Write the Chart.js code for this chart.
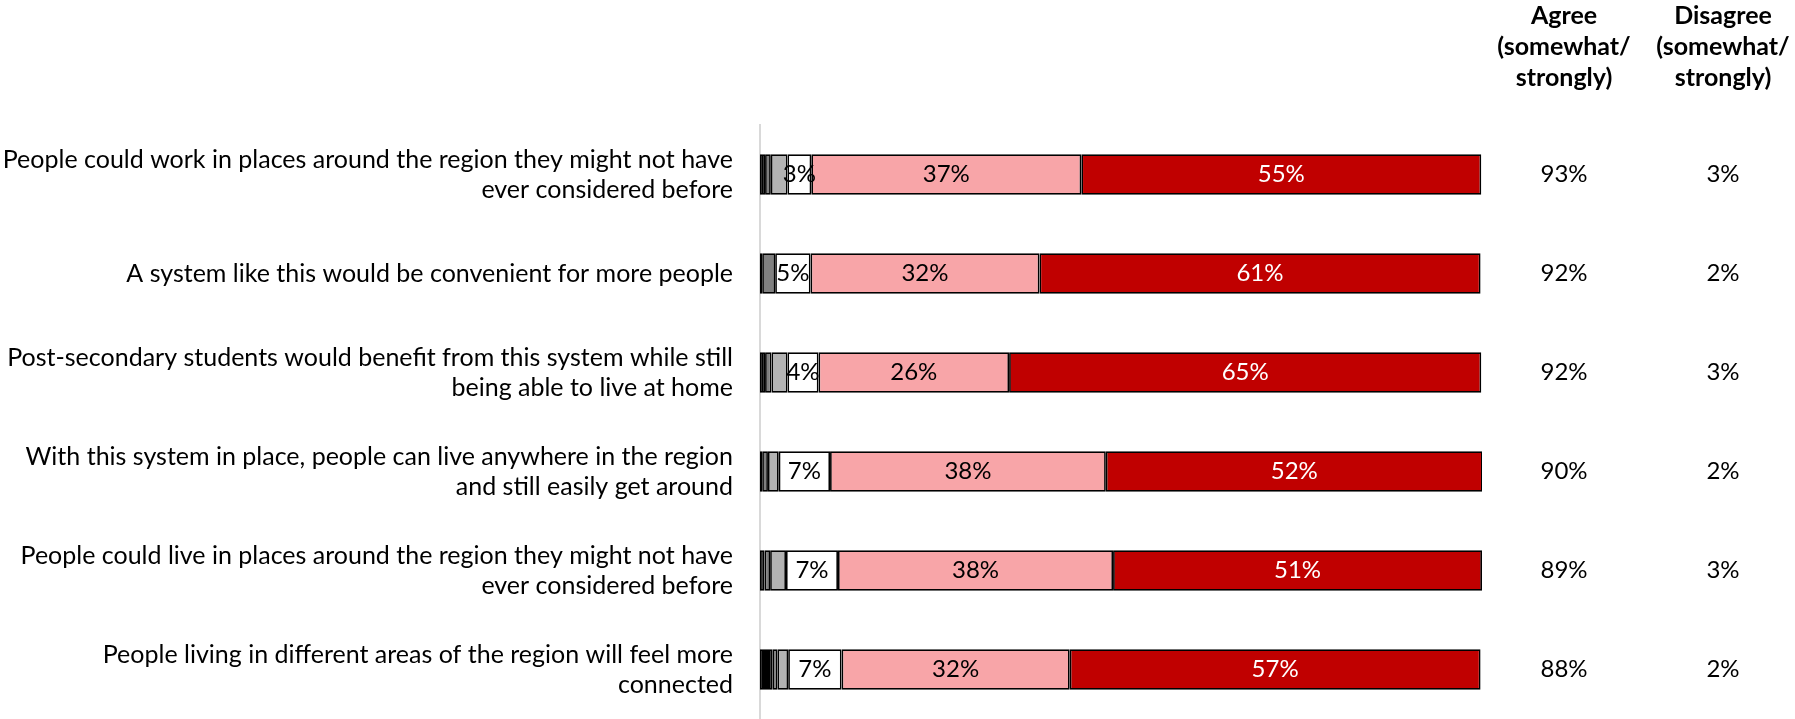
<!DOCTYPE html>
<html>
<head>
<meta charset="utf-8">
<script src="https://cdn.jsdelivr.net/npm/chart.js@4/dist/chart.umd.min.js"></script>
<style>
  body { margin: 0; background: #fff; }
  #wrap { width: 1795px; height: 719px; }
</style>
</head>
<body>
<div id="wrap"><canvas id="chart"></canvas></div>
<script>
const categories = [
  ["People could work in places around the region they might not have", "ever considered before"],
  ["A system like this would be convenient for more people"],
  ["Post-secondary students would benefit from this system while still", "being able to live at home"],
  ["With this system in place, people can live anywhere in the region", "and still easily get around"],
  ["People could live in places around the region they might not have", "ever considered before"],
  ["People living in different areas of the region will feel more", "connected"]
];

// segment shares, left to right
const stronglyDisagree = [0.7, 0.3, 0.7, 0.3, 0.6, 1.7];
const somewhatDisagree = [0.8, 1.8, 0.9, 0.8, 0.8, 0.7];
const dontKnow = [2.3, 0, 2.2, 1.5, 2.2, 1.5];
const neutral = [3.3, 4.9, 4.3, 7.1, 7.2, 7.4];
const somewhatAgree = [37.4, 31.7, 26.4, 38.2, 38.1, 31.6];
const stronglyAgree = [55.4, 61.1, 65.4, 52.2, 51.1, 56.9];

// summary columns on the right
const agreeTotal = ["93%", "92%", "92%", "90%", "89%", "88%"];
const disagreeTotal = ["3%", "2%", "3%", "2%", "3%", "2%"];
const agreeHeader = ["Agree", "(somewhat/", "strongly)"];
const disagreeHeader = ["Disagree", "(somewhat/", "strongly)"];

const FONT = "Lato, 'Liberation Sans', sans-serif";

const labelsPlugin = {
  id: "segmentLabels",
  afterDatasetsDraw(chart) {
    const ctx = chart.ctx;
    ctx.save();
    ctx.font = "24px " + FONT;
    ctx.textAlign = "center";
    ctx.textBaseline = "middle";
    [3, 4, 5].forEach(di => {
      const meta = chart.getDatasetMeta(di);
      meta.data.forEach((bar, i) => {
        const v = chart.data.datasets[di].data[i];
        ctx.fillStyle = di === 5 ? "#fff" : "#000";
        ctx.fillText(Math.round(v) + "%", (bar.x + bar.base) / 2, bar.y);
      });
    });

    const area = chart.chartArea;
    const xAgree = area.right + 82;
    const xDis = area.right + 241;
    ctx.fillStyle = "#000";
    ctx.font = "bold 25px " + FONT;
    agreeHeader.forEach((t, i) => ctx.fillText(t, xAgree, 16 + i * 31));
    disagreeHeader.forEach((t, i) => ctx.fillText(t, xDis, 16 + i * 31));

    ctx.font = "24px " + FONT;
    const meta = chart.getDatasetMeta(0);
    meta.data.forEach((bar, i) => {
      ctx.fillText(agreeTotal[i], xAgree, bar.y);
      ctx.fillText(disagreeTotal[i], xDis, bar.y);
    });
    ctx.restore();
  }
};

function series(data, color) {
  return {
    data: data,
    backgroundColor: color,
    borderColor: "#000",
    borderWidth: 1.75,
    borderSkipped: false,
    barPercentage: 0.41,
    categoryPercentage: 1
  };
}

new Chart(document.getElementById("chart"), {
  type: "bar",
  data: {
    labels: categories,
    datasets: [
      series(stronglyDisagree, "#000000"),
      series(somewhatDisagree, "#808080"),
      series(dontKnow, "#b3b3b3"),
      series(neutral, "#ffffff"),
      series(somewhatAgree, "#f8a5a8"),
      series(stronglyAgree, "#c00000")
    ]
  },
  options: {
    indexAxis: "y",
    responsive: true,
    maintainAspectRatio: false,
    animation: false,
    layout: { padding: { top: 125, right: 313, bottom: 0, left: 0 } },
    plugins: { legend: { display: false }, tooltip: { enabled: false } },
    scales: {
      x: {
        stacked: true,
        min: 0,
        max: 100,
        display: false
      },
      y: {
        stacked: true,
        afterFit: scale => {
          scale.width = 760;
          scale.paddingTop = 0;
          scale.paddingBottom = 0;
        },
        grid: { display: false, drawTicks: false },
        border: { display: true, color: "#d9d9d9", width: 2 },
        ticks: {
          padding: 27,
          color: "#000",
          font: { family: FONT, size: 25, lineHeight: 1.2 }
        }
      }
    }
  },
  plugins: [labelsPlugin]
});
</script>
</body>
</html>
